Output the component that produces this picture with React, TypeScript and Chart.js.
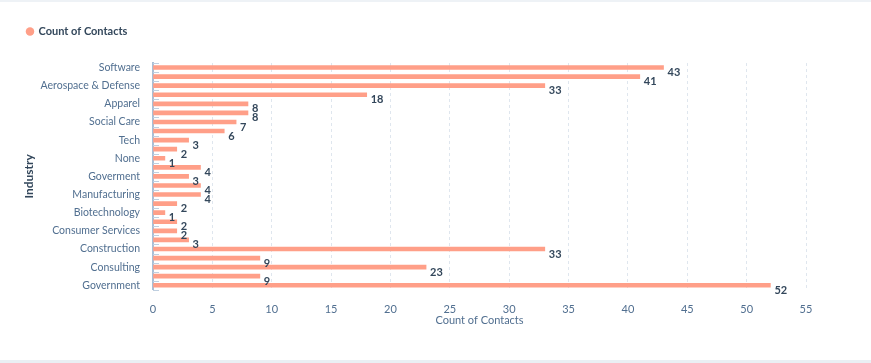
import React, { useEffect, useRef } from "react";
import { Chart, registerables } from "chart.js";

Chart.register(...registerables);

// 25 categories; only every other label is shown in the reference (others unreadable)
const industries: string[] = [
  "Software", "", "Aerospace & Defense", "", "Apparel", "", "Social Care", "",
  "Tech", "", "None", "", "Goverment", "", "Manufacturing", "", "Biotechnology", "",
  "Consumer Services", "", "Construction", "", "Consulting", "", "Government",
];
const contactCounts: number[] = [
  43, 41, 33, 18, 8, 8, 7, 6, 3, 2, 1, 4, 3, 4, 4, 2, 1, 2, 2, 3, 33, 9, 23, 9, 52,
];
const seriesName = "Count of Contacts";
const xAxisTitle = "Count of Contacts";
const yAxisTitle = "Industry";
const xMax = 55;
const xStep = 5;

const BAR = "#ff9f88";
const DARK = "#33475b";
const MUTED = "#516f90";
const FONT = "Lato, 'Open Sans', sans-serif";

const valueLabels = {
  id: "valueLabels",
  afterDatasetsDraw(chart: any) {
    const ctx = chart.ctx;
    const meta = chart.getDatasetMeta(0);
    ctx.save();
    ctx.font = `bold 11px ${FONT}`;
    ctx.fillStyle = DARK;
    ctx.textAlign = "left";
    ctx.textBaseline = "middle";
    meta.data.forEach((el: any, i: number) => {
      ctx.fillText(String(contactCounts[i]), el.x + 4, el.y + 5);
    });
    ctx.restore();
  },
};

const xTitle = {
  id: "xTitle",
  afterDraw(chart: any) {
    const { ctx, chartArea } = chart;
    ctx.save();
    ctx.font = `11px ${FONT}`;
    ctx.fillStyle = MUTED;
    ctx.textAlign = "center";
    ctx.textBaseline = "middle";
    ctx.fillText(xAxisTitle, (chartArea.left + chartArea.right) / 2, chartArea.bottom + 31);
    ctx.restore();
  },
};

const legendGap = {
  id: "legendGap",
  beforeInit(chart: any) {
    const orig = chart.legend.fit;
    chart.legend.fit = function () {
      orig.call(this);
      this.height += 16;
    };
  },
};

const innerTicks = {
  id: "innerTicks",
  afterDraw(chart: any) {
    const { ctx, chartArea } = chart;
    const yScale = chart.scales.y;
    const n = industries.length;
    const step = yScale.getPixelForValue(1) - yScale.getPixelForValue(0);
    ctx.save();
    ctx.strokeStyle = "#bfcfe0";
    ctx.lineWidth = 1;
    for (let i = 0; i <= n; i++) {
      const y = yScale.getPixelForValue(Math.min(i, n - 1)) + (i < n ? -step / 2 : step / 2);
      const yy = Math.round(y) + 0.5;
      ctx.beginPath();
      ctx.moveTo(chartArea.left, yy);
      ctx.lineTo(chartArea.left + 6, yy);
      ctx.stroke();
    }
    ctx.restore();
  },
};

export default function App() {
  const ref = useRef<HTMLCanvasElement | null>(null);
  useEffect(() => {
    document.body.style.margin = "0";
    const chart = new Chart(ref.current!, {
      type: "bar",
      data: {
        labels: industries,
        datasets: [
          {
            label: seriesName,
            data: contactCounts,
            backgroundColor: BAR,
            borderWidth: 0,
            barThickness: 4,
          },
        ],
      },
      options: {
        indexAxis: "y",
        animation: false,
        responsive: false,
        layout: { padding: { left: 18, right: 65, top: 17, bottom: 34 } },
        plugins: {
          legend: {
            position: "top",
            align: "start",
            labels: {
              usePointStyle: true,
              pointStyle: "circle",
              boxWidth: 6,
              boxHeight: 6,
              padding: 9,
              color: DARK,
              font: { family: FONT, size: 11, weight: "bold" },
            },
          },
          tooltip: { enabled: false },
        },
        scales: {
          x: {
            type: "linear",
            min: 0,
            max: xMax,
            ticks: {
              stepSize: xStep,
              color: MUTED,
              padding: 13,
              font: { family: FONT, size: 11 },
            },
            grid: {
              color: "#dfe6ee",
              drawTicks: false,
            },
            border: { display: false, dash: [3, 3] },
            title: { display: false },
          },
          y: {
            type: "category",
            ticks: {
              autoSkip: false,
              color: MUTED,
              padding: 13,
              font: { family: FONT, size: 10.5 },
            },
            grid: { display: false, drawTicks: false },
            border: { display: true, color: "#a9bfd6", width: 2 },
            title: {
              display: true,
              text: yAxisTitle,
              color: DARK,
              font: { family: FONT, size: 12, weight: "bold" },
              padding: { top: 4, bottom: 0 },
            },
            afterFit: (scale: any) => {
              scale.width = 135;
            },
          },
        },
      },
      plugins: [legendGap, valueLabels, innerTicks, xTitle],
    } as any);
    return () => chart.destroy();
  }, []);

  return (
    <div style={{ position: "relative", width: 871, height: 363, background: "#fff", overflow: "hidden" }}>
      <div style={{ position: "absolute", left: 0, top: 0, width: 871, height: 2, background: "#eef2f6" }} />
      <div style={{ position: "absolute", left: 0, top: 360, width: 871, height: 3, background: "#eaeff4" }} />
      <canvas ref={ref} width={871} height={363} style={{ display: "block" }} />
    </div>
  );
}
